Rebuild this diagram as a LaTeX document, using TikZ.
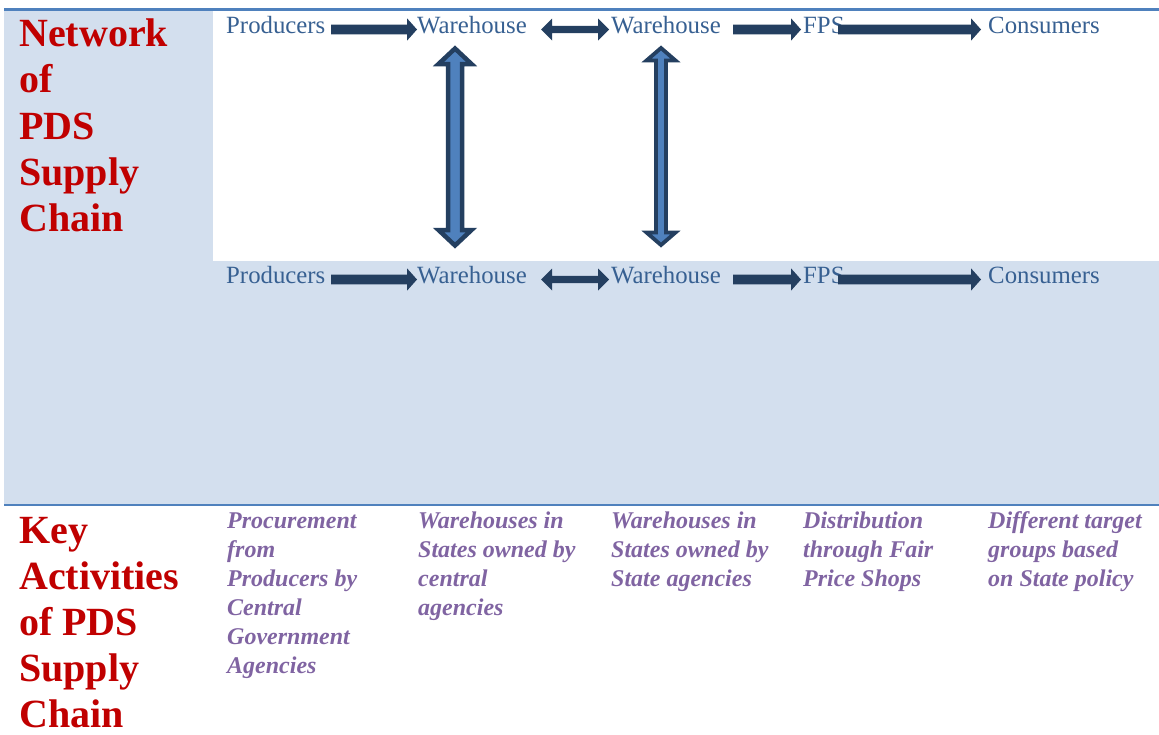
\documentclass[tikz,border=0pt]{standalone}
\usepackage{fontspec}
\setmainfont{Liberation Serif}
\usetikzlibrary{calc}
\definecolor{bglight}{HTML}{D3DFEE}
\definecolor{rulebl}{HTML}{4F81BD}
\definecolor{txtbl}{HTML}{376092}
\definecolor{arrdark}{HTML}{243F60}
\definecolor{arrlight}{HTML}{4F81BD}
\definecolor{redt}{HTML}{C00000}
\definecolor{purt}{HTML}{8064A2}
\newcommand\harr[2]{% single block arrow from #1 to tip #2
  \fill[arrfill] ($(#1)+(0,-4.9)$) -- ($(#2)+(-10,-4.9)$) -- ($(#2)+(-10,-11.2)$) -- (#2)
    -- ($(#2)+(-10,11.2)$) -- ($(#2)+(-10,4.9)$) -- ($(#1)+(0,4.9)$) -- cycle;}
\newcommand\hdarr[2]{% double block arrow between tips #1 and #2
  \fill[arrfill] (#1) -- ($(#1)+(11,-11)$) -- ($(#1)+(11,-3.6)$) -- ($(#2)+(-11,-3.6)$) -- ($(#2)+(-11,-11)$) -- (#2)
    -- ($(#2)+(-11,11)$) -- ($(#2)+(-11,3.6)$) -- ($(#1)+(11,3.6)$) -- ($(#1)+(11,11)$) -- cycle;}
\newcommand\vdarr[5]{% vertical double arrow: top tip #1, bottom tip #2, shaft half #3, head half #4, head length #5
  \filldraw[varr] (#1) -- ($(#1)+(#4,#5)$) -- ($(#1)+(#3,#5)$) -- ($(#2)+(#3,-#5)$) -- ($(#2)+(#4,-#5)$) -- (#2)
    -- ($(#2)+(-#4,-#5)$) -- ($(#2)+(-#3,-#5)$) -- ($(#1)+(-#3,#5)$) -- ($(#1)+(-#4,#5)$) -- cycle;}
\begin{document}
\begin{tikzpicture}[x=1pt,y=-1pt,
  lbl/.style={anchor=base west,inner sep=0pt,text=txtbl,font=\fontsize{24.8}{29}\selectfont},
  redhead/.style={anchor=base west,inner sep=0pt,text=redt,font=\bfseries\fontsize{40}{46.2}\selectfont},
  activity/.style={anchor=base west,inner sep=0pt,text=purt,font=\bfseries\itshape\fontsize{24}{29}\selectfont},
  arrfill/.style={fill=arrdark},
  varr/.style={fill=arrlight,draw=arrdark,line width=4.5pt,line join=miter}]
\useasboundingbox (0,0) rectangle (1159,734);
% backgrounds
\fill[bglight] (4,10.5) rectangle (1159,504.5);
\fill[white] (213,10.8) rectangle (1159,261);
\draw[rulebl,line width=2.4pt] (4,9.5) -- (1159,9.5);
\draw[rulebl,line width=2.4pt] (4,504.7) -- (1159,504.7);
% headings
\node[redhead] (net) at (19,46.7) {\begin{tabular}[t]{@{}l@{}}Network\\of\\PDS\\Supply\\Chain\end{tabular}};
\node[redhead] (key) at (19,543) {\begin{tabular}[t]{@{}l@{}}Key\\Activities\\of PDS\\Supply\\Chain\end{tabular}};
% top row
\node[lbl] (p1) at (226,33) {Producers};
\node[lbl] (w1) at (417,33) {Warehouse};
\node[lbl] (w2) at (611,33) {Warehouse};
\node[lbl] (f1) at (803,33) {FPS};
\node[lbl] (c1) at (988,33) {Consumers};
% bottom row
\node[lbl] (p2) at (226,283) {Producers};
\node[lbl] (w3) at (417,283) {Warehouse};
\node[lbl] (w4) at (611,283) {Warehouse};
\node[lbl] (f2) at (803,283) {FPS};
\node[lbl] (c2) at (988,283) {Consumers};
% arrow end coordinates
\foreach \r/\dy in {t/0,b/250}{
  \coordinate (a1s\r) at (331,29.5+\dy);
  \coordinate (a1e\r) at (417,29.5+\dy);
  \coordinate (a2s\r) at (541,29.5+\dy);
  \coordinate (a2e\r) at (609,29.5+\dy);
  \coordinate (a3s\r) at (733,29.5+\dy);
  \coordinate (a3e\r) at (801,29.5+\dy);
  \coordinate (a4s\r) at (838,29.5+\dy);
  \coordinate (a4e\r) at (981,29.5+\dy);
}
\foreach \r in {t,b}{
  \harr{a1s\r}{a1e\r}
  \hdarr{a2s\r}{a2e\r}
  \harr{a3s\r}{a3e\r}
  \harr{a4s\r}{a4e\r}
}
% vertical arrows
\coordinate (v1t) at (455,48.5);
\coordinate (v1b) at (455,245.5);
\coordinate (v2t) at (661,48);
\coordinate (v2b) at (661,245);
\vdarr{v1t}{v1b}{7}{16.5}{15.5}
\begin{scope}[varr/.append style={line width=3.8pt}]
\vdarr{v2t}{v2b}{5}{14.5}{12.5}
\end{scope}
% activities
\node[activity] (k1) at (227,528.5) {\begin{tabular}[t]{@{}l@{}}Procurement\\from\\Producers by\\Central\\Government\\Agencies\end{tabular}};
\node[activity] (k2) at (418,528.5) {\begin{tabular}[t]{@{}l@{}}Warehouses in\\States owned by\\central\\agencies\end{tabular}};
\node[activity] (k3) at (611,528.5) {\begin{tabular}[t]{@{}l@{}}Warehouses in\\States owned by\\State agencies\end{tabular}};
\node[activity] (k4) at (803,528.5) {\begin{tabular}[t]{@{}l@{}}Distribution\\through Fair\\Price Shops\end{tabular}};
\node[activity] (k5) at (988,528.5) {\begin{tabular}[t]{@{}l@{}}Different target\\groups based\\on State policy\end{tabular}};
\end{tikzpicture}
\end{document}
